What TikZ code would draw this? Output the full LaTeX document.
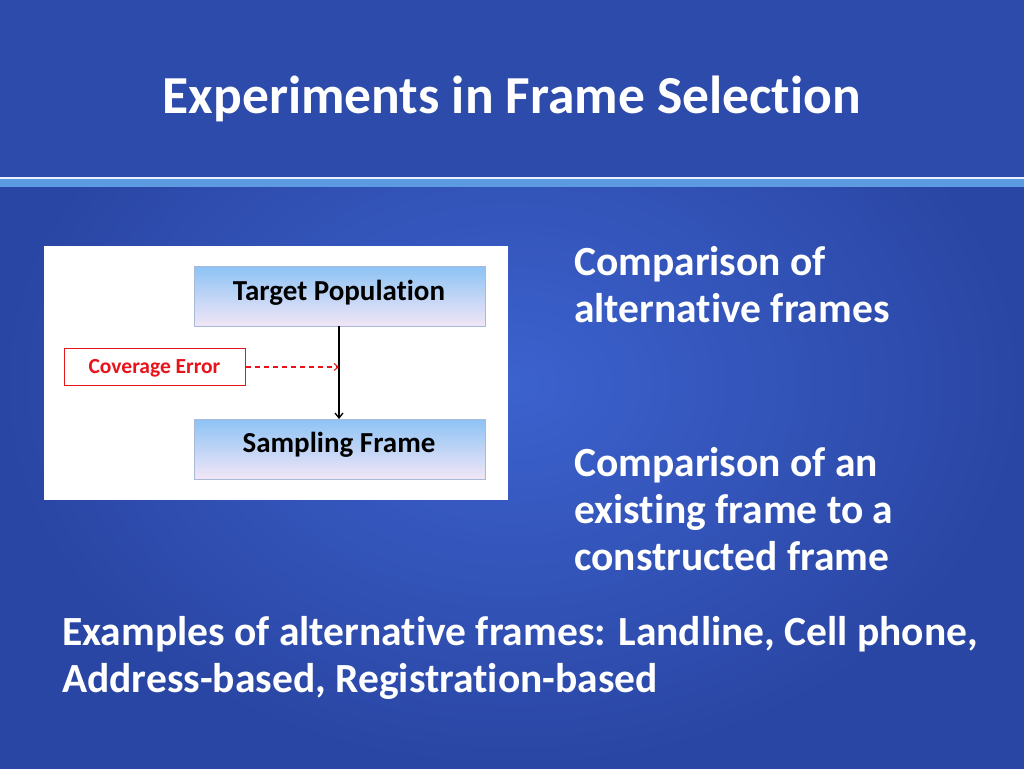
\documentclass[tikz,border=0pt]{standalone}
\usepackage{fontspec}
\setmainfont[Ligatures=NoCommon]{Carlito}
\usetikzlibrary{arrows.meta}
\definecolor{bgdark}{HTML}{2A46A4}
\definecolor{bglight}{HTML}{3C62CE}
\definecolor{hdr}{HTML}{2D4BAA}
\definecolor{band}{HTML}{5C9BE2}
\definecolor{boxtop}{HTML}{8DC3F5}
\definecolor{boxbot}{HTML}{F2E6F6}
\definecolor{boxline}{HTML}{A9B9D9}
\definecolor{errred}{HTML}{E8141C}
\tikzset{
  fbox/.style={draw=boxline, top color=boxtop, bottom color=boxbot, minimum width=291pt, minimum height=60pt, anchor=north west, inner sep=0pt},
  flabel/.style={anchor=base, inner sep=0pt, font=\fontsize{29}{32}\selectfont\bfseries},
  slide/.style={text=white, font=\fontsize{41.5}{47}\selectfont\bfseries, align=left, anchor=base west, inner sep=0pt}
}
\begin{document}
\begin{tikzpicture}[x=1pt,y=-1pt]
\useasboundingbox (0,0) rectangle (1024,768);
\shade[inner color=bglight, outer color=bgdark] (0,0) rectangle (1024,768);
\fill[hdr] (0,0) rectangle (1024,177);
\fill[white!85!band] (0,177) rectangle (1024,179);
\fill[band] (0,179) rectangle (1024,187);
\node[text=white, anchor=base, inner sep=0pt, font=\fontsize{53.5}{56}\selectfont\bfseries] (title) at (512,113) {Experiments in Frame Selection};
\fill[white] (44,246) rectangle (508,500);
\node[fbox] (tp) at (194,266) {};
\node[flabel] (tpl) at (339,300) {Target Population};
\node[fbox] (sf) at (194,419) {};
\node[flabel] (sfl) at (339,452) {Sampling Frame};
\node[draw=errred, line width=1pt, fill=white, minimum width=181pt, minimum height=37pt, anchor=north west, inner sep=0pt] (ce) at (64,348) {};
\node[anchor=base, inner sep=0pt, text=errred, font=\fontsize{21.5}{24}\selectfont\bfseries] (cel) at (154.5,373) {Coverage Error};
\draw[line width=1.3pt, -{Straight Barb[length=5pt,width=8pt]}] (tp.south -| 339,0) -- (sf.north -| 339,0);
\coordinate (hit) at (339,367);
\draw[errred, line width=1.1pt, dash pattern=on 5pt off 4pt, -{Straight Barb[length=4pt,width=7pt]}] (ce.east) -- (hit);
\node[slide] (r1) at (574,322) {Comparison of\\alternative frames};
\node[slide] (r2) at (574,570) {Comparison of an\\existing frame to a\\constructed frame};
\node[slide] (b) at (62,692) {Examples of alternative frames: Landline, Cell phone,\\Address-based, Registration-based};
\end{tikzpicture}
\end{document}
